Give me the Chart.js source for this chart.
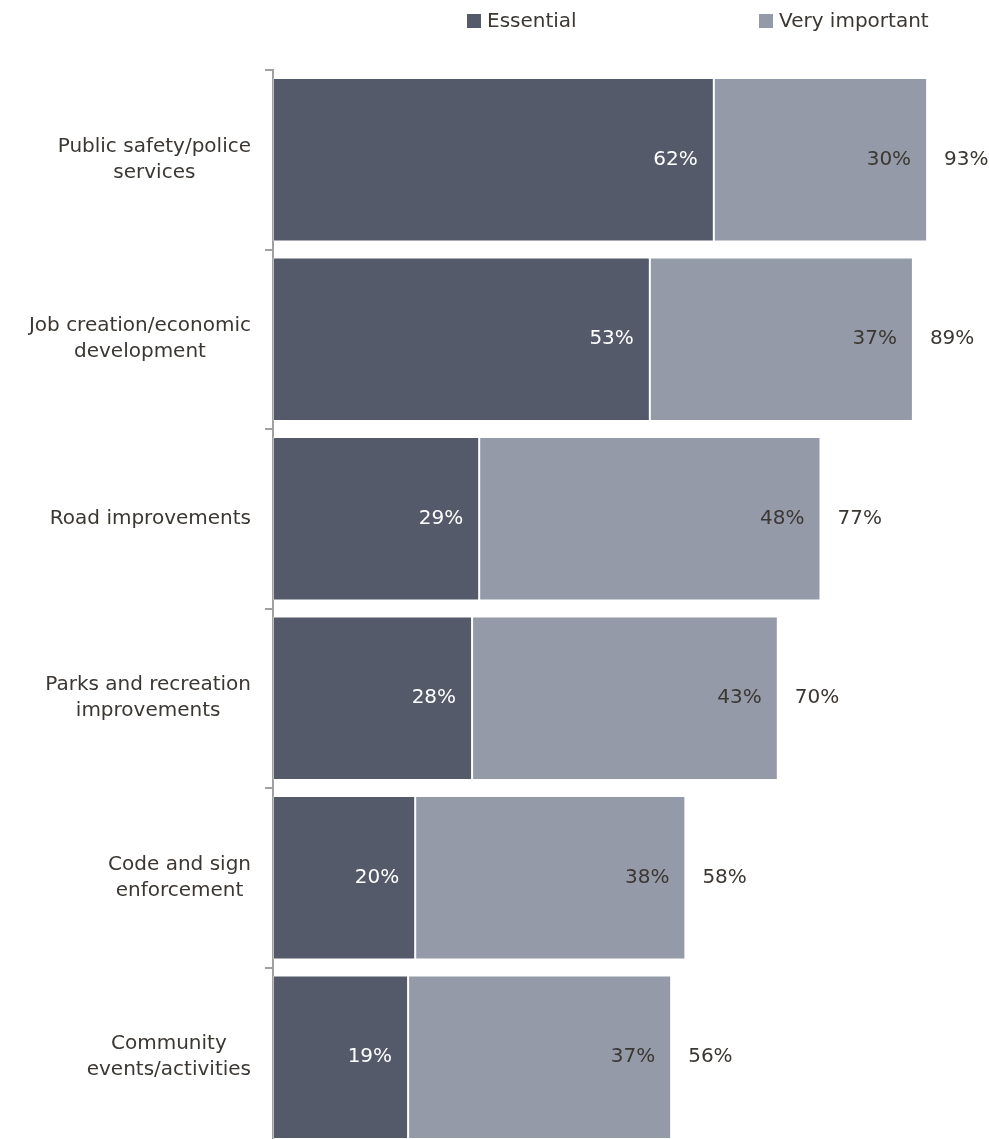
<!DOCTYPE html>
<html>
<head>
<meta charset="utf-8">
<script src="https://cdn.jsdelivr.net/npm/chart.js@4.4.1/dist/chart.umd.min.js"></script>
<style>
	html, body { margin: 0; padding: 0; background: #fff; overflow: hidden; }
	#wrap { width: 989px; height: 1147px; position: relative; }
</style>
</head>
<body>
<div id="wrap"><canvas id="myChart"></canvas></div>
<script>
// 데이터
const categories = [
	['Public safety/police', 'services'],
	['Job creation/economic', 'development'],
	['Road improvements'],
	['Parks and recreation', 'improvements'],
	['Code and sign', 'enforcement'],
	['Community', 'events/activities']
];
const essential = [62, 53, 29, 28, 20, 19];
const veryImportant = [30, 37, 48, 43, 38, 37];
const totals = [93, 89, 77, 70, 58, 56];
const seriesNames = ['Essential', 'Very important'];

const darkColor = '#545a6a';
const lightColor = '#959aa9';
const textColor = '#3b3733';
const fontFamily = '"DejaVu Sans", sans-serif';

// 라벨 / 범례 그리기
const labelPlugin = {
	id: 'labelPlugin',
	afterDraw(chart) {
		const ctx = chart.ctx;
		const yScale = chart.scales.y;
		ctx.save();
		ctx.font = '20px ' + fontFamily;
		ctx.textBaseline = 'middle';

		// 카테고리 라벨 (가장 긴 줄 오른쪽 정렬, 줄끼리는 가운데 정렬)
		categories.forEach((lines, i) => {
			const cy = yScale.getPixelForValue(i);
			let maxW = 0;
			lines.forEach(l => { maxW = Math.max(maxW, ctx.measureText(l).width); });
			const cx = 251 - maxW / 2;
			ctx.fillStyle = textColor;
			ctx.textAlign = 'center';
			const lh = 26;
			lines.forEach((l, j) => {
				ctx.fillText(l, cx, cy + (j - (lines.length - 1) / 2) * lh);
			});
		});

		// 값 라벨
		const m0 = chart.getDatasetMeta(0);
		const m1 = chart.getDatasetMeta(1);
		for (let i = 0; i < essential.length; i++) {
			const b0 = m0.data[i];
			const b1 = m1.data[i];
			ctx.textAlign = 'right';
			ctx.fillStyle = '#ffffff';
			ctx.fillText(essential[i] + '%', b0.x - 16, b0.y);
			ctx.fillStyle = textColor;
			ctx.fillText(veryImportant[i] + '%', b1.x - 16, b1.y);
			ctx.textAlign = 'left';
			ctx.fillText(totals[i] + '%', b1.x + 17, b1.y);
		}

		// 범례
		const legendX = [467, 759];
		const colors = [darkColor, lightColor];
		seriesNames.forEach((name, i) => {
			ctx.fillStyle = colors[i];
			ctx.fillRect(legendX[i], 14, 14, 14);
			ctx.fillStyle = textColor;
			ctx.textAlign = 'left';
			ctx.fillText(name, legendX[i] + 20, 22);
		});
		ctx.restore();
	}
};

const ctx = document.getElementById('myChart').getContext('2d');
const myChart = new Chart(ctx, {
	type: 'bar',
	data: {
		labels: categories.map(c => c.join(' ')),
		datasets: [{
			label: seriesNames[0],
			data: essential,
			backgroundColor: darkColor,
			borderColor: 'rgba(255,255,255,0.3)',
			borderWidth: 1,
			borderSkipped: false
		}, {
			label: seriesNames[1],
			data: veryImportant,
			backgroundColor: lightColor,
			borderColor: 'rgba(255,255,255,0.3)',
			borderWidth: 1,
			borderSkipped: false
		}]
	},
	options: {
		indexAxis: 'y',
		responsive: true,
		maintainAspectRatio: false,
		animation: false,
		layout: { padding: { left: 265, right: 5, top: 70, bottom: 0 } },
		datasets: { bar: { categoryPercentage: 1, barPercentage: 0.91 } },
		plugins: {
			legend: { display: false },
			tooltip: { enabled: false }
		},
		scales: {
			x: {
				stacked: true,
				display: false,
				min: 0,
				max: 100
			},
			y: {
				stacked: true,
				ticks: { display: false },
				grid: {
					offset: true,
					drawOnChartArea: false,
					drawTicks: true,
					tickLength: 8,
					lineWidth: 2,
					color: '#a0a0a0'
				},
				border: { display: true, color: '#a0a0a0', width: 2 }
			}
		}
	},
	plugins: [labelPlugin]
});
</script>
</body>
</html>
